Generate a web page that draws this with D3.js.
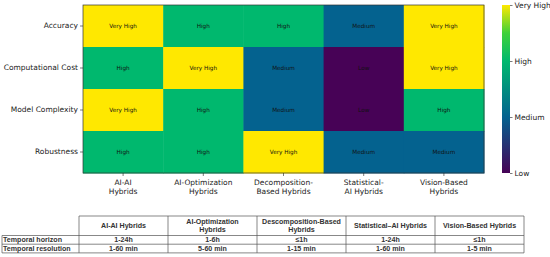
<!DOCTYPE html>
<html>
<head>
<meta charset="utf-8">
<script src="https://cdn.jsdelivr.net/npm/d3@7"></script>
<style>
  body { margin: 0; background: #fff; }
  svg { display: block; }
</style>
</head>
<body>
<div id="chart"></div>
<script>
// rows / columns of the heatmap
var metrics = ["Accuracy", "Computational Cost", "Model Complexity", "Robustness"];
var hybrids = [["AI-AI", "Hybrids"], ["AI-Optimization", "Hybrids"], ["Decomposition-", "Based Hybrids"],
               ["Statistical-", "AI Hybrids"], ["Vision-Based", "Hybrids"]];
var levels = ["Low", "Medium", "High", "Very High"];

// rating per metric (rows) and hybrid (cols)
var ratings = [
  ["Very High", "High", "High", "Medium", "Very High"],
  ["High", "Very High", "Medium", "Low", "Very High"],
  ["Very High", "High", "Medium", "Low", "High"],
  ["High", "High", "Very High", "Medium", "Medium"]
];

// table under the chart
var tableHeaders = [["AI-AI Hybrids"], ["AI-Optimization", "Hybrids"], ["Descomposition-Based", "Hybrids"],
                    ["Statistical\u2013AI Hybrids"], ["Vision-Based Hybrids"]];
var tableRowLabels = ["Temporal horizon", "Temporal resolution"];
var horizon = ["1-24h", "1-6h", "\u22641h", "1-24h", "\u22641h"];
var resolution = ["1-60 min", "5-60 min", "1-15 min", "1-60 min", "1-5 min"];

var W = 550, H = 257;
var svg = d3.select("#chart").append("svg").attr("width", W).attr("height", H);

var hm = { left: 83, top: 5, right: 484, bottom: 173 };

var x = d3.scaleBand().domain(d3.range(hybrids.length)).range([hm.left, hm.right]);
var y = d3.scaleBand().domain(metrics).range([hm.top, hm.bottom]);

// colour for each level (viridis-like)
var color = d3.scaleLinear()
  .domain([0, 1, 2, 2.5, 3])
  .range(["#470256", "#04628f", "#00b86e", "#3fd13a", "#ffe800"]);

var cells = [];
ratings.forEach(function(row, i) {
  row.forEach(function(r, j) {
    cells.push({ metric: metrics[i], col: j, rating: r, v: levels.indexOf(r) });
  });
});

// slight overlap so no seams between cells
svg.selectAll("rect.cell")
  .data(cells)
  .enter()
  .append("rect")
  .attr("class", "cell")
  .attr("x", function(d) { return x(d.col); })
  .attr("y", function(d) { return y(d.metric); })
  .attr("width", x.bandwidth() + 0.5)
  .attr("height", y.bandwidth() + 0.5)
  .attr("fill", function(d) { return color(d.v); });

svg.selectAll("text.cell")
  .data(cells)
  .enter()
  .append("text")
  .attr("class", "cell")
  .attr("x", function(d) { return x(d.col) + x.bandwidth() / 2; })
  .attr("y", function(d) { return y(d.metric) + y.bandwidth() / 2; })
  .attr("dy", "0.35em")
  .attr("text-anchor", "middle")
  .attr("font-family", "DejaVu Sans")
  .attr("font-size", 5.7)
  .attr("fill", "#111")
  .text(function(d) { return d.rating; });

svg.append("rect")
  .attr("x", hm.left).attr("y", hm.top)
  .attr("width", hm.right - hm.left).attr("height", hm.bottom - hm.top)
  .attr("fill", "none").attr("stroke", "#333").attr("stroke-width", 0.7);

// y axis
var yAxis = svg.append("g")
  .attr("transform", "translate(" + hm.left + ",0)")
  .call(d3.axisLeft(y).tickSize(3).tickPadding(2));
yAxis.select(".domain").remove();
yAxis.selectAll("text").attr("font-family", "DejaVu Sans").attr("font-size", 7.5).attr("fill", "#222");
yAxis.selectAll("line").attr("stroke", "#222").attr("stroke-width", 0.6);

// x axis
var xAxis = svg.append("g")
  .attr("transform", "translate(0," + hm.bottom + ")")
  .call(d3.axisBottom(x).tickSize(3).tickFormat(""));
xAxis.select(".domain").remove();
xAxis.selectAll("line").attr("stroke", "#222").attr("stroke-width", 0.6);
xAxis.selectAll(".tick").each(function(d) {
  var t = d3.select(this).append("text")
    .attr("text-anchor", "middle")
    .attr("font-family", "DejaVu Sans")
    .attr("font-size", 7.5)
    .attr("fill", "#222");
  hybrids[d].forEach(function(line, k) {
    t.append("tspan").attr("x", 0).attr("y", 12 + k * 8.7).text(line);
  });
});

// colour bar
var cb = { x: 502, w: 8 };
var cbScale = d3.scaleLinear().domain([0, 3]).range([hm.bottom, hm.top]);
var grad = svg.append("defs").append("linearGradient")
  .attr("id", "cbgrad").attr("x1", 0).attr("y1", 1).attr("x2", 0).attr("y2", 0);
d3.range(0, 3.01, 0.25).forEach(function(v) {
  grad.append("stop").attr("offset", (v / 3 * 100) + "%").attr("stop-color", color(v));
});
svg.append("rect")
  .attr("x", cb.x).attr("y", hm.top)
  .attr("width", cb.w).attr("height", hm.bottom - hm.top)
  .attr("fill", "url(#cbgrad)");
var cAxis = svg.append("g")
  .attr("transform", "translate(" + (cb.x + cb.w) + ",0)")
  .call(d3.axisRight(cbScale).tickValues([0, 1, 2, 3]).tickSize(2.5).tickPadding(2)
    .tickFormat(function(d) { return levels[d]; }));
cAxis.select(".domain").remove();
cAxis.selectAll("text").attr("font-family", "DejaVu Sans").attr("font-size", 7.5).attr("fill", "#222");
cAxis.selectAll("line").attr("stroke", "#222").attr("stroke-width", 0.6);

// table
var tb = { left: 2, labelRight: 79, right: 524, top: 216, headBottom: 235.5, rowH: 8.7 };
var tx = d3.scaleBand().domain(d3.range(tableHeaders.length)).range([tb.labelRight, tb.right]);
var rowY = d3.scaleBand().domain(tableRowLabels)
  .range([tb.headBottom, tb.headBottom + tb.rowH * tableRowLabels.length]);
var tbBottom = tb.headBottom + tb.rowH * tableRowLabels.length;
var g = svg.append("g").attr("fill", "none").attr("stroke", "#555").attr("stroke-width", 0.7);

// horizontal lines
g.append("line").attr("x1", tb.labelRight).attr("x2", tb.right).attr("y1", tb.top).attr("y2", tb.top);
[tb.headBottom].concat(tableRowLabels.map(function(r) { return rowY(r) + rowY.bandwidth(); }))
  .forEach(function(yy) {
    g.append("line").attr("x1", tb.left).attr("x2", tb.right).attr("y1", yy).attr("y2", yy);
  });
// vertical lines
g.append("line").attr("x1", tb.left).attr("x2", tb.left).attr("y1", tb.headBottom).attr("y2", tbBottom);
d3.range(tableHeaders.length + 1).forEach(function(i) {
  var xx = i < tableHeaders.length ? tx(i) : tb.right;
  g.append("line").attr("x1", xx).attr("x2", xx).attr("y1", tb.top).attr("y2", tbBottom);
});

var tfont = "Liberation Sans";
var tsize = 7.1;
tableHeaders.forEach(function(lines, i) {
  var cy = (tb.top + tb.headBottom) / 2 - (lines.length - 1) * 3.8;
  var t = svg.append("text")
    .attr("text-anchor", "middle")
    .attr("font-family", tfont).attr("font-weight", "bold")
    .attr("font-size", tsize).attr("fill", "#333");
  lines.forEach(function(l, k) {
    t.append("tspan").attr("x", tx(i) + tx.bandwidth() / 2).attr("y", cy + k * 7.6).attr("dy", "0.35em").text(l);
  });
});

tableRowLabels.forEach(function(r, ri) {
  svg.append("text")
    .attr("x", tb.left + 1).attr("y", rowY(r) + rowY.bandwidth() / 2).attr("dy", "0.35em")
    .attr("font-family", tfont).attr("font-weight", "bold")
    .attr("font-size", tsize).attr("fill", "#333").text(r);
  var vals = ri === 0 ? horizon : resolution;
  vals.forEach(function(v, i) {
    svg.append("text")
      .attr("x", tx(i) + tx.bandwidth() / 2).attr("y", rowY(r) + rowY.bandwidth() / 2).attr("dy", "0.35em")
      .attr("text-anchor", "middle")
      .attr("font-family", tfont).attr("font-weight", "bold")
      .attr("font-size", tsize).attr("fill", "#333").text(v);
  });
});
</script>
</body>
</html>
